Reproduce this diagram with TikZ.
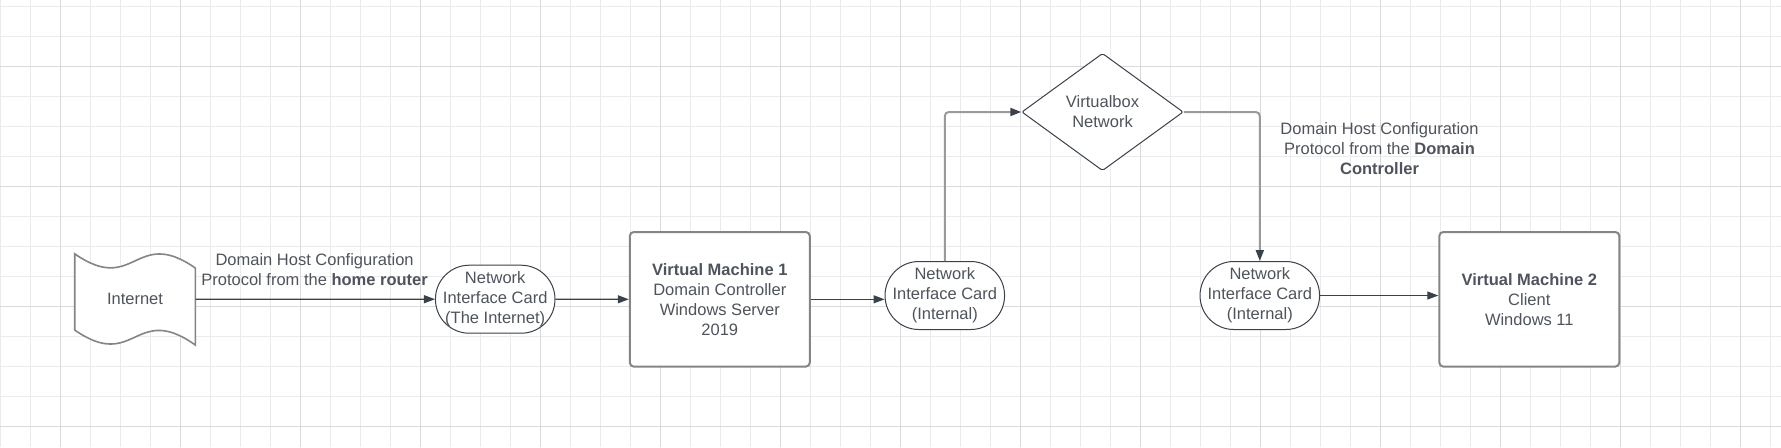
\documentclass[tikz,border=0pt]{standalone}
\usepackage{fontspec}
\setmainfont{Liberation Sans}
\usetikzlibrary{shapes.geometric, arrows.meta}
\definecolor{txtgray}{HTML}{4F545C}
\definecolor{linegray}{HTML}{3A414A}
\definecolor{boxgray}{HTML}{858585}
\definecolor{elbowgray}{HTML}{9A9A9A}
\definecolor{gridminor}{HTML}{EBEBEB}
\definecolor{gridmajor}{HTML}{DADADA}

\begin{document}
\begin{tikzpicture}[x=0.5pt, y=-0.5pt,
  >={Triangle[length=5.5pt, width=4pt]},
  every node/.style={font=\fontsize{8.25}{10}\selectfont, text=txtgray, align=center, inner sep=0pt},
  niccard/.style={draw=linegray, line width=0.5pt, rounded corners=16.9pt, minimum width=59.75pt, minimum height=34pt, fill=white},
  vmbox/.style={draw=boxgray, line width=1pt, rounded corners=2pt, minimum width=90pt, minimum height=67.3pt, fill=white},
  tape/.style={draw=boxgray, line width=0.8pt, fill=white},
  flow/.style={draw=linegray, line width=0.6pt, ->},
  elbow/.style={draw=elbowgray, line width=1pt, rounded corners=2pt, -{Triangle[length=5.5pt, width=4pt, color=linegray]}}]

  \useasboundingbox (0,0) rectangle (1781,447);

  % --- Grid ---
  \fill[white] (0,0) rectangle (1781,447);
  \foreach \i in {0,...,59}
    \draw[gridminor, line width=0.5pt] ({0.7+30*\i},0) -- ({0.7+30*\i},447);
  \foreach \j in {0,...,14}
    \draw[gridminor, line width=0.5pt] (0,{6+30*\j}) -- (1781,{6+30*\j});
  \foreach \i in {0,...,14}
    \draw[gridmajor, line width=0.5pt] ({60.7+120*\i},0) -- ({60.7+120*\i},447);
  \foreach \j in {0,...,3}
    \draw[gridmajor, line width=0.5pt] (0,{66+120*\j}) -- (1781,{66+120*\j});

  % --- Internet (tape) ---
  \coordinate (inetc) at (135,299.3);
  \draw[tape] ([shift={(-60.3,-45.5)}]inetc) .. controls +(60.3,42) and +(-60.3,-42) .. ([shift={(60.3,-31.3)}]inetc)
    -- ([shift={(60.3,45.7)}]inetc) .. controls +(-60.3,-43) and +(60.3,42) .. ([shift={(-60.3,30.7)}]inetc) -- cycle;
  \node[minimum width=60.3pt, minimum height=45.5pt] (inet) at (inetc) {Internet};

  % --- Boxes ---
  \node[niccard] (nic1) at (495.2,299.2) {Network\\Interface Card\\(The Internet)};
  \node[vmbox] (vm1) at (719.8,299.3) {\textbf{Virtual Machine 1}\\Domain Controller\\Windows Server\\2019};
  \node[niccard] (nic2) at (944.8,295.5) {Network\\Interface Card\\(Internal)};
  \node[diamond, draw=linegray, line width=0.5pt, fill=white, rounded corners=1pt,
        minimum width=80.75pt, minimum height=58.7pt] (vbox) at (1102.5,112) {Virtualbox\\Network};
  \node[niccard] (nic3) at (1259.8,295.5) {Network\\Interface Card\\(Internal)};
  \node[vmbox] (vm2) at (1529.3,299.3) {\textbf{Virtual Machine 2}\\Client\\Windows 11};

  % --- Labels ---
  \node (lblrouter) at (314.6,269.3) {Domain Host Configuration\\Protocol from the \textbf{home router}};
  \node (lbldc) at (1379.5,148.8) {Domain Host Configuration\\Protocol from the \textbf{Domain}\\\textbf{Controller}};

  % --- Connectors ---
  \draw[flow] (inet.east) -- (nic1.west);
  \draw[flow] (nic1.east) -- (vm1.west);
  \draw[flow] (vm1.east) -- (vm1.east -| nic2.west);
  \draw[elbow] (nic2.north) |- (vbox.west);
  \draw[elbow] (vbox.east) -| (nic3.north);
  \draw[flow] (nic3.east) -- (nic3.east -| vm2.west);

\end{tikzpicture}
\end{document}
